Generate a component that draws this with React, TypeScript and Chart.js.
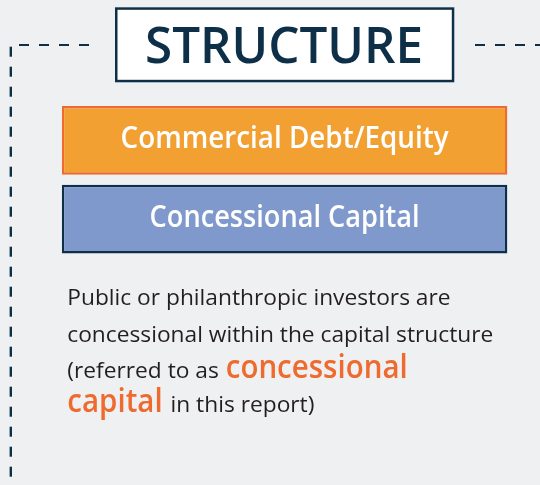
import React, { useEffect, useRef } from "react";
import { Chart, registerables } from "chart.js";

Chart.register(...registerables);

// ---- data ----
const TITLE = "STRUCTURE";
const CATEGORIES = ["Commercial Debt/Equity", "Concessional Capital"];
const VALUES = [100, 100];
const FILL_COLORS = ["#f3a033", "#8099cc"];
const BORDER_COLORS = ["#ee6a2e", "#0e2f48"];
// body text: each line is a list of runs; accent runs are highlighted
const BODY_LINES: { text: string; accent?: boolean }[][] = [
  [{ text: "Public or philanthropic investors are" }],
  [{ text: "concessional within the capital structure" }],
  [{ text: "(referred to as" }, { text: "concessional", accent: true }],
  [{ text: "capital", accent: true }, { text: "in this report)" }],
];

const NAVY = "#0e2f48";
const BG = "#eff0f2";
const ORANGE_TEXT = "#ef6a2e";
const BODY_TEXT = "#231f20";
const FAMILY = '"Open Sans", "Noto Sans", sans-serif';

function sizeFor(ctx: CanvasRenderingContext2D, weight: number, glyph: string, target: number) {
  ctx.font = `${weight} 100px ${FAMILY}`;
  const m = ctx.measureText(glyph);
  return (100 * target) / m.actualBoundingBoxAscent;
}

function drawScaled(
  ctx: CanvasRenderingContext2D,
  text: string,
  left: number,
  baseline: number,
  sx: number,
  font: string,
  color: string
) {
  ctx.save();
  ctx.font = font;
  ctx.fillStyle = color;
  ctx.textAlign = "left";
  ctx.textBaseline = "alphabetic";
  ctx.translate(left, baseline);
  ctx.scale(sx, 1);
  ctx.fillText(text, 0, 0);
  ctx.restore();
}

function fitCentered(
  ctx: CanvasRenderingContext2D,
  text: string,
  cx: number,
  baseline: number,
  weight: number,
  capH: number,
  width: number,
  color: string
) {
  const size = sizeFor(ctx, weight, "H", capH);
  const font = `${weight} ${size}px ${FAMILY}`;
  ctx.font = font;
  const w = ctx.measureText(text).width;
  const sx = width / w;
  drawScaled(ctx, text, cx - width / 2, baseline, sx, font, color);
}

const infographic = {
  id: "infographic",
  beforeDraw(chart: any) {
    const ctx: CanvasRenderingContext2D = chart.ctx;
    ctx.save();
    ctx.fillStyle = BG;
    ctx.fillRect(0, 0, chart.width, chart.height);

    // dashed frame lines
    ctx.strokeStyle = NAVY;
    ctx.lineWidth = 2;
    ctx.setLineDash([10, 10]);
    ctx.beginPath();
    ctx.moveTo(19, 45);
    ctx.lineTo(90, 45);
    ctx.moveTo(475, 45);
    ctx.lineTo(545, 45);
    ctx.stroke();
    ctx.lineWidth = 2.4;
    ctx.beginPath();
    ctx.moveTo(10.8, 46.7);
    ctx.lineTo(10.8, 500);
    ctx.stroke();
    ctx.setLineDash([]);

    // title box
    ctx.fillStyle = "#ffffff";
    ctx.fillRect(115, 7.3, 339.3, 75);
    ctx.strokeStyle = NAVY;
    ctx.lineWidth = 2.5;
    ctx.strokeRect(116.25, 8.55, 336.8, 72.5);
    ctx.restore();

    fitCentered(ctx, TITLE, 284, 63, 600, 36, 278, NAVY);
  },
  afterDatasetsDraw(chart: any) {
    const ctx: CanvasRenderingContext2D = chart.ctx;
    const meta = chart.getDatasetMeta(0);
    const widths = [328, 270];
    meta.data.forEach((el: any, i: number) => {
      const cx = (el.base + el.x) / 2;
      fitCentered(ctx, CATEGORIES[i], cx, el.y + 7.5, 600, 21.5, widths[i], "#ffffff");
    });
  },
  afterDraw(chart: any) {
    const ctx: CanvasRenderingContext2D = chart.ctx;
    const regSize = sizeFor(ctx, 400, "H", 15.8);
    const regFont = `400 ${regSize}px ${FAMILY}`;
    ctx.font = regFont;
    const regSx = 426 / ctx.measureText(BODY_LINES[1][0].text).width;
    const accSize = sizeFor(ctx, 600, "x", 17.3);
    const accFont = `600 ${accSize}px ${FAMILY}`;
    ctx.font = accFont;
    const accSx = 182 / ctx.measureText("concessional").width;
    ctx.font = regFont;
    const space = ctx.measureText(" ").width * regSx;
    const baselines = [305, 341.5, 378, 412];
    BODY_LINES.forEach((runs, li) => {
      let x = 67.3;
      runs.forEach((run, ri) => {
        const font = run.accent ? accFont : regFont;
        const sx = run.accent ? accSx : regSx;
        ctx.font = font;
        const w = ctx.measureText(run.text).width * sx;
        drawScaled(ctx, run.text, x, baselines[li], sx, font, run.accent ? ORANGE_TEXT : BODY_TEXT);
        x += w + space + (ri === 0 && !run.accent ? 1 : 2);
      });
    });
  },
};

export default function App() {
  const ref = useRef<HTMLCanvasElement | null>(null);
  useEffect(() => {
    const prevMargin = document.body.style.margin;
    document.body.style.margin = "0";
    const chart = new Chart(ref.current as HTMLCanvasElement, {
      type: "bar",
      data: {
        labels: CATEGORIES,
        datasets: [
          {
            data: VALUES,
            backgroundColor: FILL_COLORS,
            borderColor: BORDER_COLORS,
            borderWidth: 2.5,
            borderSkipped: false,
            categoryPercentage: 1,
            barPercentage: 0.876,
          },
        ],
      },
      options: {
        indexAxis: "y",
        responsive: false,
        animation: false,
        devicePixelRatio: 1,
        layout: { padding: { left: 61.7, right: 32.5, top: 101, bottom: 226.5 } },
        scales: {
          x: { display: false, min: 0, max: 100 },
          y: { display: false },
        },
        plugins: { legend: { display: false }, tooltip: { enabled: false } },
        events: [],
      },
      plugins: [infographic],
    });
    return () => {
      chart.destroy();
      document.body.style.margin = prevMargin;
    };
  }, []);
  return (
    <div style={{ position: "fixed", left: 0, top: 0, width: 540, height: 485, background: BG }}>
      <canvas ref={ref} width={540} height={485} style={{ display: "block" }} />
    </div>
  );
}
